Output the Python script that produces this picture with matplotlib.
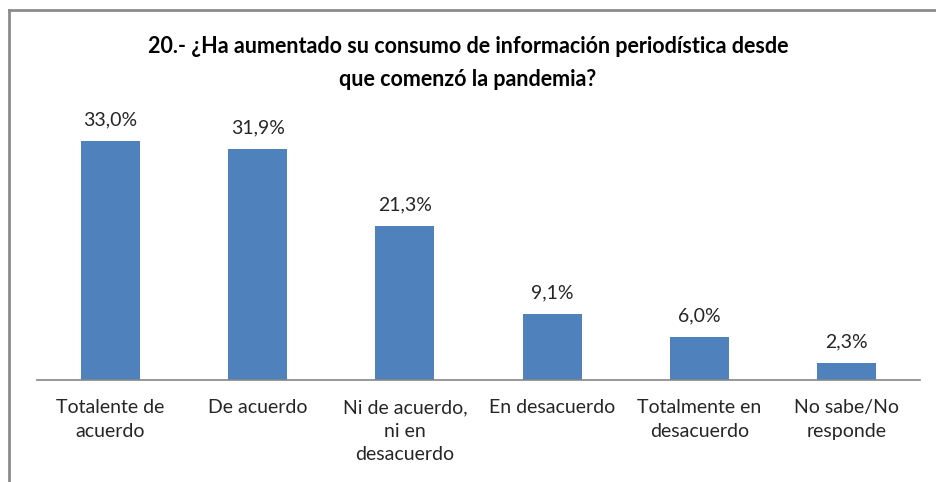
import matplotlib.pyplot as plt
from matplotlib.lines import Line2D

categorias = ['Totalente de\nacuerdo', 'De acuerdo', 'Ni de acuerdo,\nni en\ndesacuerdo',
              'En desacuerdo', 'Totalmente en\ndesacuerdo', 'No sabe/No\nresponde']
valores = [33.0, 31.9, 21.3, 9.1, 6.0, 2.3]
etiquetas = ['33,0%', '31,9%', '21,3%', '9,1%', '6,0%', '2,3%']

titulo = '20.- ¿Ha aumentado su consumo de información periodística desde\nque comenzó la pandemia?'

plt.rcParams['font.family'] = ['Lato', 'DejaVu Sans']

fig = plt.figure(figsize=(9.36, 4.82), dpi=100)
ax = fig.add_axes([37 / 936, 1 - 380 / 482, 883 / 936, (380 - 126.6) / 482])

x = range(len(categorias))
ax.bar(x, valores, width=0.4, color='#4F81BD')
for xi, v, t in zip(x, valores, etiquetas):
    ax.annotate(t, (xi, v), xytext=(0, 9), textcoords='offset points',
                ha='center', va='bottom', fontsize=14, color='#262626')

ax.set_xlim(-0.5, len(categorias) - 0.5)
ax.set_ylim(0, 35)
ax.set_xticks(list(x))
ax.set_xticklabels([])
ax.tick_params(axis='x', length=0)
ax.set_yticks([])
for s in ['top', 'right', 'left']:
    ax.spines[s].set_visible(False)
ax.spines['bottom'].set_color('#868686')
ax.spines['bottom'].set_linewidth(1.2)

# etiquetas de categoría centradas línea por línea
for xi, c in zip(x, categorias):
    ax.annotate(c, (xi, 0), xytext=(0, -14), textcoords='offset points',
                ha='center', va='top', ma='center', fontsize=14, color='#262626',
                linespacing=1.45, annotation_clip=False)

fig.text(0.5, 1 - 63 / 482, titulo, ha='center', va='center', fontsize=15.5,
         fontweight='bold', color='#000000', linespacing=1.65)

# marco del gráfico (solo borde izquierdo y superior visibles)
fig.add_artist(Line2D([9 / 936, 9 / 936], [0, 1 - 10 / 482], transform=fig.transFigure,
                      color='#8C8C8C', lw=2))
fig.add_artist(Line2D([9 / 936, 1], [1 - 10 / 482, 1 - 10 / 482], transform=fig.transFigure,
                      color='#8C8C8C', lw=2))

fig.savefig('out.png', dpi=100)
